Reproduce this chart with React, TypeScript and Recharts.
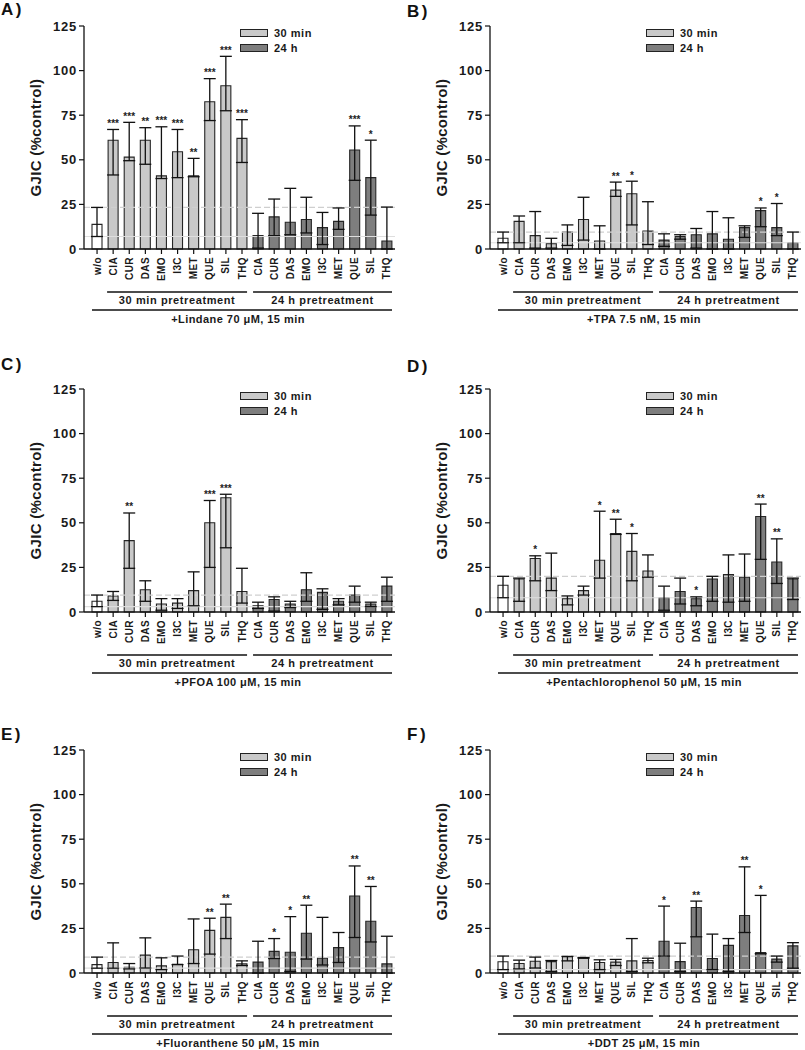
import React from 'react';
import { BarChart, Bar, XAxis, YAxis, ErrorBar, Cell, LabelList, ReferenceLine } from 'recharts';

// ---------- shared labels ----------
const categories = ['w/o', 'CIA', 'CUR', 'DAS', 'EMO', 'I3C', 'MET', 'QUE', 'SIL', 'THQ', 'CIA', 'CUR', 'DAS', 'EMO', 'I3C', 'MET', 'QUE', 'SIL', 'THQ'];
const groups = ['ctrl', '30', '30', '30', '30', '30', '30', '30', '30', '30', '24', '24', '24', '24', '24', '24', '24', '24', '24'];
const groupLabels = ['30 min pretreatment', '24 h pretreatment'];
const legendLabels = ['30 min', '24 h'];
const yTicks = [0, 25, 50, 75, 100, 125];
const yLabel = 'GJIC (%control)';

// ---------- A) Lindane ----------
const lindaneMean = [13.8, 61, 51.5, 61, 41, 54.5, 41, 82.5, 91.5, 62, 7.5, 18, 15, 16.5, 12, 15.5, 55.5, 40, 4.5];
const lindaneLow = [7, 41.5, 49.5, 47.5, 39.5, 40, 40.5, 72, 77.5, 48.5, 0.5, 7.5, 8, 9, 2.5, 11, 38.5, 19, 0];
const lindaneHigh = [23.3, 67, 71, 68, 68.5, 67, 50.8, 95.5, 108, 72.5, 20, 28, 34, 29, 20.5, 23, 69, 61, 23.5];
const lindaneStars = ['', '***', '***', '**', '***', '***', '**', '***', '***', '***', '', '', '', '', '', '', '***', '*', ''];

// ---------- B) TPA ----------
const tpaMean = [6, 15.5, 7.5, 3, 9.5, 16.5, 4.5, 33, 31, 10, 5, 7, 8, 8.5, 5.5, 12, 21.5, 12, 3.5];
const tpaLow = [3.5, 3.5, 0.5, 0.5, 2, 5, 0, 29.5, 13.5, 2.5, 1.5, 5.5, 0.5, 0, 0, 6.5, 12.5, 7.5, 0];
const tpaHigh = [9.5, 18.5, 21, 6, 13.5, 29, 13, 37.5, 38, 26.5, 8.5, 8, 11.5, 21, 17.5, 13, 23, 25.5, 9.5];
const tpaStars = ['', '', '', '', '', '', '', '**', '*', '', '', '', '', '', '', '', '*', '*', ''];

// ---------- C) PFOA ----------
const pfoaMean = [6, 9, 40, 12.5, 4.5, 5, 12, 50, 64, 11.5, 3.5, 7, 4.5, 12.5, 11, 6, 9.5, 4.5, 14.5];
const pfoaLow = [3, 6.5, 24.5, 6, 1, 2, 3.5, 25, 36, 5, 2, 0.5, 2.5, 6, 1.5, 4, 5.5, 3, 6];
const pfoaHigh = [9.5, 11.5, 55.5, 17.5, 7.5, 7.5, 22.5, 62.5, 66, 24.5, 5.5, 8.5, 6, 22, 13, 7.5, 14.5, 5.5, 19.5];
const pfoaStars = ['', '', '**', '', '', '', '', '***', '***', '', '', '', '', '', '', '', '', '', ''];

// ---------- D) Pentachlorophenol ----------
const pcpMean = [15, 18.5, 30, 19, 7.5, 12, 29, 44, 34, 23, 8, 11.5, 7.5, 18.5, 21, 19.5, 53.5, 28, 18.5];
const pcpLow = [8, 6, 17.5, 12, 4, 9.5, 19, 43.5, 17.5, 19.5, 1, 4.5, 3.5, 6, 5.5, 6, 29.5, 16, 7];
const pcpHigh = [20, 19, 31.5, 33, 9, 14.5, 56.5, 52, 44, 32, 14.5, 19, 8.5, 20, 32, 32.5, 60.5, 41, 19];
const pcpStars = ['', '', '*', '', '', '', '*', '**', '*', '', '', '', '*', '', '', '', '**', '**', ''];

// ---------- E) Fluoranthene ----------
const fluoMean = [4.7, 5.9, 3.2, 10, 4, 4.9, 13, 23.9, 31.2, 5.1, 6.1, 12.1, 11.6, 22.3, 8.3, 14.2, 43.2, 29, 5.1];
const fluoLow = [2.7, 2.7, 2.3, 2.8, 1.9, 4.7, 5.3, 10.6, 19.3, 4.2, 0, 8.1, 0.9, 7.8, 4.5, 5.9, 19.9, 17.4, 0];
const fluoHigh = [8.9, 16.9, 5.3, 19.7, 8.5, 9.5, 30.3, 30.7, 38.6, 6.8, 17.8, 19.3, 31.6, 38, 31.2, 22.7, 60, 48.5, 20.6];
const fluoStars = ['', '', '', '', '', '', '', '**', '**', '', '', '*', '*', '**', '', '', '**', '**', ''];

// ---------- F) DDT ----------
const ddtMean = [6.3, 5.3, 6.6, 6.4, 9.1, 8.5, 5.9, 6.1, 6.8, 7, 17.8, 6.4, 36.7, 8.1, 15.5, 32.2, 11.4, 7.8, 15.2];
const ddtLow = [1.9, 2.3, 2.8, 0.9, 6.8, 8.3, 1.9, 4.2, 0.9, 5.7, 9.5, 0.9, 20.3, 1.9, 0.9, 22.7, 10.8, 6.1, 2.7];
const ddtHigh = [9.5, 7.2, 8.9, 7, 9.3, 8.7, 7.4, 7.6, 19.3, 8.3, 37.5, 16.7, 40.3, 21.8, 19.3, 59.5, 43.5, 9.5, 17];
const ddtStars = ['', '', '', '', '', '', '', '', '', '', '*', '', '**', '', '', '**', '*', '', ''];

const FONT = '"Liberation Sans", Arial, Helvetica, sans-serif';
const COLORS: Record<string, string> = { ctrl: '#ffffff', '30': '#c9c9c9', '24': '#7e7e7e' };

// layout constants
const CW = 402;
const CH = 345;
const PLOT_LEFT = 84;
const PLOT_TOP = 26;
const PLOT_BOTTOM = 249;
const PAD_LEFT = 5;
const PLOT_RIGHT = 395;
const BAND = (PLOT_RIGHT - PLOT_LEFT - PAD_LEFT) / categories.length;

type PanelDef = {
  id: string;
  title: string;
  mean: number[];
  low: number[];
  high: number[];
  stars: string[];
  left: number;
  top: number;
  labelY: number;
};

const panels: PanelDef[] = [
  { id: 'A)', title: '+Lindane 70 \u03bcM, 15 min', mean: lindaneMean, low: lindaneLow, high: lindaneHigh, stars: lindaneStars, left: 0, top: 0, labelY: 9 },
  { id: 'B)', title: '+TPA 7.5 nM, 15 min', mean: tpaMean, low: tpaLow, high: tpaHigh, stars: tpaStars, left: 406, top: 0, labelY: 11 },
  { id: 'C)', title: '+PFOA 100 \u03bcM, 15 min', mean: pfoaMean, low: pfoaLow, high: pfoaHigh, stars: pfoaStars, left: 0, top: 363, labelY: 1 },
  { id: 'D)', title: '+Pentachlorophenol 50 \u03bcM, 15 min', mean: pcpMean, low: pcpLow, high: pcpHigh, stars: pcpStars, left: 406, top: 363, labelY: 3 },
  { id: 'E)', title: '+Fluoranthene 50 \u03bcM, 15 min', mean: fluoMean, low: fluoLow, high: fluoHigh, stars: fluoStars, left: 0, top: 724, labelY: 10 },
  { id: 'F)', title: '+DDT 25 \u03bcM, 15 min', mean: ddtMean, low: ddtLow, high: ddtHigh, stars: ddtStars, left: 406, top: 724, labelY: 10 },
];

const XTick = (props: any) => {
  const { x, y, payload } = props;
  const idx = payload && payload.index != null ? payload.index : props.index;
  const label = categories[idx] ?? '';
  const ty = y + 1;
  return (
    <text
      x={x}
      y={ty}
      transform={`rotate(-90 ${x} ${ty})`}
      textAnchor="end"
      dominantBaseline="central"
      fontSize={10}
      fontWeight="bold"
      letterSpacing={0.4}
      fill="#1a1a1a"
      fontFamily={FONT}
    >
      {label}
    </text>
  );
};

function Panel({ p }: { p: PanelDef }) {
  const rows = categories.map((c, i) => ({
    key: `${groups[i]}-${c}-${i}`,
    idx: i,
    v: p.mean[i],
    lo: p.low[i],
    hi: p.high[i],
    err: [Math.max(0, p.mean[i] - p.low[i]), Math.max(0, p.high[i] - p.mean[i])],
    stars: p.stars[i],
    group: groups[i],
  }));

  const renderStars = (lp: any) => {
    const { x, y, width, height, value } = lp;
    const e = rows[value];
    if (!e || !e.stars) return null;
    const unit = Math.abs(Number(height)) / e.v;
    const capY = Number(y) - (e.hi - e.v) * unit;
    return (
      <text x={Number(x) + Number(width) / 2} y={capY - 2.5} textAnchor="middle" fontSize={10} fontWeight="bold" fill="#222" fontFamily={FONT}>
        {e.stars}
      </text>
    );
  };

  const bandStart = (i: number) => PLOT_LEFT + PAD_LEFT + i * BAND;
  const g1 = [bandStart(1) + 2, bandStart(10) - 3];
  const g2 = [bandStart(10) + 3, bandStart(19) - 3];
  const gAll = [bandStart(0) + 3, bandStart(19) - 3];
  const lineY = PLOT_BOTTOM + 43;
  const subTextY = PLOT_BOTTOM + 55;
  const bottomLineY = PLOT_BOTTOM + 61;
  const titleY = PLOT_BOTTOM + 73.5;

  const ctrl = rows[0];

  return (
    <div style={{ position: 'absolute', left: p.left, top: p.top, width: CW, height: CH }}>
      <div
        style={{
          position: 'absolute',
          left: 1,
          top: p.labelY - 8.5,
          fontSize: 17,
          lineHeight: '17px',
          fontWeight: 'bold',
          letterSpacing: 2.5,
          fontFamily: FONT,
          color: '#111',
        }}
      >
        {p.id}
      </div>
      <BarChart
        width={CW}
        height={CH}
        data={rows}
        margin={{ top: PLOT_TOP, right: CW - PLOT_RIGHT, bottom: CH - PLOT_BOTTOM - 40, left: 0 }}
        barCategoryGap={0}
      >
        <XAxis
          dataKey="key"
          interval={0}
          height={40}
          padding={{ left: PAD_LEFT, right: 0 }}
          tick={<XTick />}
          tickSize={5}
          tickLine={{ stroke: '#111', strokeWidth: 1.2 }}
          axisLine={{ stroke: '#111', strokeWidth: 1.3 }}
        />
        <YAxis
          domain={[0, 125]}
          ticks={yTicks}
          width={PLOT_LEFT}
          tickSize={5}
          interval={0}
          tickLine={{ stroke: '#111', strokeWidth: 1.2 }}
          axisLine={{ stroke: '#111', strokeWidth: 1.3 }}
          tick={{ fill: '#1a1a1a', fontSize: 13, fontWeight: 'bold', fontFamily: FONT, letterSpacing: 0.8 }}
          label={{
            content: (lp: any) => {
              const vb = lp.viewBox || { x: 0, y: PLOT_TOP, width: PLOT_LEFT, height: PLOT_BOTTOM - PLOT_TOP };
              const cx = vb.x + 35;
              const cy = vb.y + vb.height / 2;
              return (
                <text
                  x={cx}
                  y={cy}
                  transform={`rotate(-90 ${cx} ${cy})`}
                  textAnchor="middle"
                  dominantBaseline="central"
                  fontSize={15}
                  fontWeight="bold"
                  letterSpacing={0.3}
                  fill="#1a1a1a"
                  fontFamily={FONT}
                >
                  {yLabel}
                </text>
              );
            },
          }}
        />
        <ReferenceLine y={ctrl.hi} stroke="#cfcfcf" strokeWidth={1.2} strokeDasharray="6 3" />
        <ReferenceLine y={ctrl.lo} stroke="#dedede" strokeWidth={1.2} />
        <Bar dataKey="v" barSize={10} isAnimationActive={false} stroke="#262626" strokeWidth={1.1}>
          {rows.map((r) => (
            <Cell key={r.key} fill={COLORS[r.group]} />
          ))}
          <ErrorBar dataKey="err" width={6} stroke="#111" strokeWidth={1.3} direction="y" isAnimationActive={false} />
          <LabelList dataKey="idx" content={renderStars} />
        </Bar>
      </BarChart>
      <svg
        width={CW}
        height={CH}
        style={{ position: 'absolute', left: 0, top: 0, overflow: 'visible', pointerEvents: 'none' }}
        fontFamily={FONT}
      >
        {/* legend */}
        <rect x={240.5} y={PLOT_TOP + 3.5} width={27} height={7} fill={COLORS['30']} stroke="#222" strokeWidth={1} />
        <rect x={240.5} y={PLOT_TOP + 18.5} width={27} height={7} fill={COLORS['24']} stroke="#222" strokeWidth={1} />
        <text x={274} y={PLOT_TOP + 11} fontSize={11} fontWeight="bold" letterSpacing={0.5} fill="#1a1a1a">
          {legendLabels[0]}
        </text>
        <text x={274} y={PLOT_TOP + 26} fontSize={11} fontWeight="bold" letterSpacing={0.5} fill="#1a1a1a">
          {legendLabels[1]}
        </text>
        {/* group brackets */}
        <line x1={g1[0]} x2={g1[1]} y1={lineY} y2={lineY} stroke="#111" strokeWidth={1.5} />
        <line x1={g2[0]} x2={g2[1]} y1={lineY} y2={lineY} stroke="#111" strokeWidth={1.5} />
        <text x={(g1[0] + g1[1]) / 2} y={subTextY} textAnchor="middle" fontSize={11} fontWeight="bold" letterSpacing={0.6} fill="#1a1a1a">
          {groupLabels[0]}
        </text>
        <text x={(g2[0] + g2[1]) / 2} y={subTextY} textAnchor="middle" fontSize={11} fontWeight="bold" letterSpacing={0.6} fill="#1a1a1a">
          {groupLabels[1]}
        </text>
        <line x1={gAll[0]} x2={gAll[1]} y1={bottomLineY} y2={bottomLineY} stroke="#111" strokeWidth={1.5} />
        <text x={(gAll[0] + gAll[1]) / 2 - 4} y={titleY} textAnchor="middle" fontSize={11} fontWeight="bold" letterSpacing={0.45} fill="#1a1a1a">
          {p.title}
        </text>
      </svg>
    </div>
  );
}

export default function App() {
  return (
    <div
      style={{
        position: 'absolute',
        left: 0,
        top: 0,
        width: 805,
        height: 1050,
        overflow: 'hidden',
        background: '#ffffff',
        fontFamily: FONT,
      }}
    >
      {panels.map((p) => (
        <Panel key={p.id} p={p} />
      ))}
    </div>
  );
}
